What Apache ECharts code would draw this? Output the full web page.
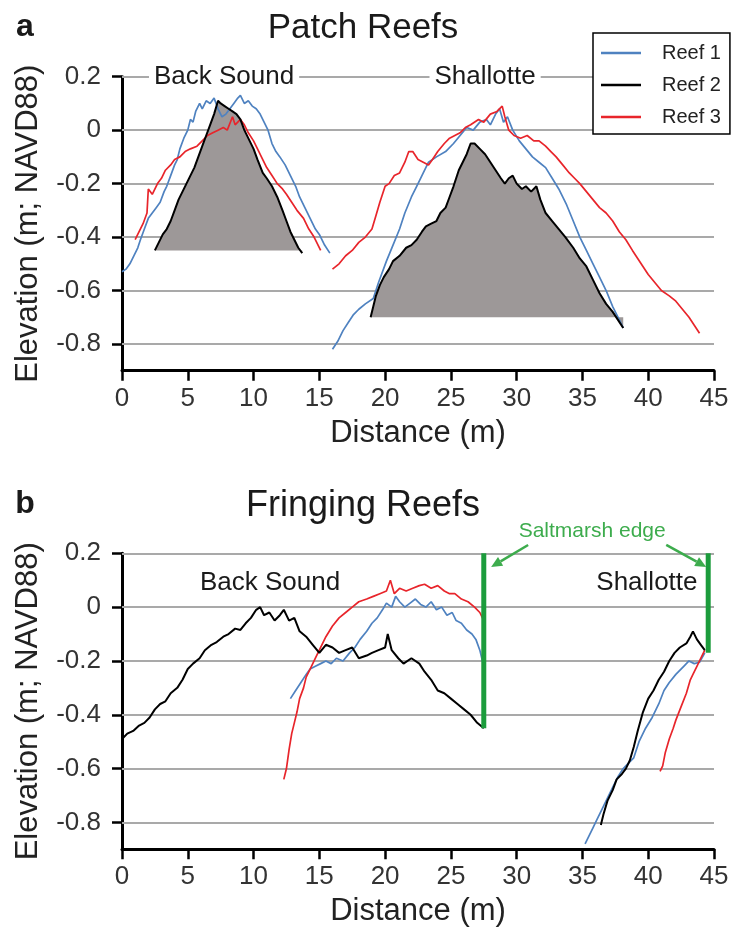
<!DOCTYPE html>
<html><head><meta charset="utf-8">
<script src="https://cdn.jsdelivr.net/npm/echarts@6/dist/echarts.min.js"></script>
<style>html,body{margin:0;padding:0;background:#fff}#c{width:732px;height:930px}</style>
</head><body><div id="c"></div>
<script>
// ---------- data ----------
const xTicks = [0,5,10,15,20,25,30,35,40,45];
const xTickLabels = ['0','5','10','15','20','25','30','35','40','45'];
const yTicks = [-0.8,-0.6,-0.4,-0.2,0,0.2];
const yTickLabels = ['-0.8','-0.6','-0.4','-0.2','0','0.2'];
const reefNames = ['Reef 1','Reef 2','Reef 3'];

// Panel a: Patch reefs, Back Sound
const aBack1 = [[0,-0.53],[0.3,-0.52],[0.6,-0.5],[0.9,-0.47],[1.2,-0.44],[1.4,-0.41],[1.7,-0.37],[2.0,-0.33],[2.3,-0.31],[2.6,-0.29],[2.9,-0.27],[3.2,-0.23],[3.4,-0.21],[3.7,-0.17],[4.0,-0.13],[4.2,-0.11],[4.4,-0.07],[4.7,-0.03],[5.0,0.0],[5.2,0.04],[5.4,0.03],[5.6,0.07],[5.9,0.1],[6.1,0.08],[6.4,0.11],[6.7,0.1],[7.0,0.12],[7.3,0.08],[7.6,0.05],[7.9,0.06],[8.2,0.08],[8.5,0.1],[8.8,0.12],[9.0,0.13],[9.3,0.1],[9.6,0.11],[9.9,0.09],[10.2,0.08],[10.5,0.06],[10.8,0.03],[11.1,0.0],[11.4,-0.05],[11.7,-0.08],[12.0,-0.1],[12.4,-0.13],[12.8,-0.17],[13.2,-0.21],[13.5,-0.25],[13.9,-0.29],[14.3,-0.33],[14.7,-0.37],[15.0,-0.39],[15.4,-0.43],[15.8,-0.46]];
const aBack2 = [[2.5,-0.45],[2.8,-0.42],[3.1,-0.39],[3.4,-0.37],[3.7,-0.34],[4.0,-0.3],[4.3,-0.26],[4.6,-0.23],[4.9,-0.2],[5.2,-0.17],[5.5,-0.14],[5.8,-0.1],[6.1,-0.06],[6.4,-0.02],[6.7,0.02],[7.0,0.06],[7.3,0.11],[7.5,0.1],[7.8,0.09],[8.1,0.08],[8.4,0.07],[8.7,0.06],[9.0,0.04],[9.3,0.0],[9.6,-0.03],[10.0,-0.07],[10.3,-0.11],[10.7,-0.16],[11.0,-0.18],[11.4,-0.21],[11.8,-0.25],[12.2,-0.3],[12.5,-0.34],[12.8,-0.38],[13.1,-0.41],[13.4,-0.44],[13.7,-0.46]];
const aBack3 = [[1.0,-0.41],[1.3,-0.38],[1.6,-0.35],[1.9,-0.31],[2.0,-0.22],[2.3,-0.24],[2.7,-0.2],[3.0,-0.18],[3.3,-0.15],[3.7,-0.13],[4.0,-0.11],[4.4,-0.1],[4.8,-0.08],[5.2,-0.07],[5.7,-0.06],[6.1,-0.04],[6.5,-0.02],[6.9,-0.01],[7.3,0.0],[7.7,0.01],[8.0,0.0],[8.4,0.05],[8.6,0.02],[8.8,0.03],[9.0,0.04],[9.3,0.02],[9.6,-0.01],[10.0,-0.04],[10.3,-0.07],[10.7,-0.11],[11.0,-0.14],[11.4,-0.17],[11.8,-0.2],[12.2,-0.22],[12.5,-0.24],[12.9,-0.27],[13.3,-0.3],[13.8,-0.33],[14.2,-0.37],[14.6,-0.4],[15.1,-0.45]];
// Panel a: Patch reefs, Shallotte
const aShal1 = [[16.0,-0.82],[16.4,-0.79],[16.8,-0.75],[17.2,-0.72],[17.6,-0.69],[18.0,-0.67],[18.5,-0.65],[19.1,-0.63],[19.5,-0.57],[20.1,-0.49],[20.6,-0.43],[21.1,-0.37],[21.5,-0.31],[22.0,-0.25],[22.4,-0.21],[22.9,-0.16],[23.3,-0.12],[23.9,-0.1],[24.6,-0.08],[25.2,-0.05],[25.7,-0.02],[26.2,0.01],[26.7,0.0],[27.2,0.03],[27.7,0.04],[28.0,0.02],[28.4,0.06],[28.7,0.08],[29.0,0.03],[29.3,0.05],[29.7,0.0],[30.2,-0.04],[30.7,-0.07],[31.2,-0.1],[31.7,-0.12],[32.2,-0.14],[32.7,-0.18],[33.2,-0.22],[33.8,-0.28],[34.3,-0.34],[34.8,-0.4],[35.3,-0.45],[35.8,-0.5],[36.3,-0.55],[36.8,-0.6],[37.3,-0.66],[37.7,-0.7],[38.1,-0.74]];
const aShal2 = [[18.9,-0.7],[19.1,-0.66],[19.3,-0.62],[19.6,-0.58],[19.9,-0.55],[20.3,-0.52],[20.6,-0.49],[21.1,-0.47],[21.6,-0.44],[22.0,-0.43],[22.4,-0.41],[22.8,-0.38],[23.1,-0.36],[23.5,-0.35],[23.9,-0.34],[24.2,-0.31],[24.6,-0.29],[24.9,-0.25],[25.2,-0.21],[25.6,-0.15],[25.9,-0.12],[26.2,-0.09],[26.5,-0.05],[26.8,-0.05],[27.2,-0.07],[27.6,-0.09],[28.0,-0.12],[28.4,-0.15],[28.8,-0.18],[29.1,-0.2],[29.4,-0.18],[29.7,-0.17],[30.0,-0.2],[30.4,-0.22],[30.7,-0.21],[31.1,-0.23],[31.5,-0.21],[31.8,-0.26],[32.2,-0.31],[32.7,-0.34],[33.2,-0.37],[33.7,-0.4],[34.3,-0.44],[34.8,-0.48],[35.3,-0.51],[35.8,-0.56],[36.3,-0.61],[36.8,-0.65],[37.3,-0.68],[37.7,-0.71],[38.1,-0.74]];
const aShal3 = [[16.0,-0.52],[16.5,-0.5],[17.0,-0.47],[17.5,-0.45],[18.0,-0.42],[18.5,-0.4],[19.0,-0.37],[19.3,-0.32],[19.6,-0.27],[20.0,-0.21],[20.3,-0.2],[20.7,-0.17],[21.1,-0.16],[21.5,-0.12],[21.8,-0.08],[22.1,-0.08],[22.5,-0.11],[22.9,-0.12],[23.3,-0.13],[23.6,-0.11],[24.0,-0.08],[24.5,-0.05],[24.9,-0.03],[25.3,-0.02],[25.7,-0.01],[26.1,0.01],[26.5,0.02],[27.1,0.04],[27.5,0.03],[28.0,0.06],[28.5,0.07],[28.9,0.09],[29.1,0.05],[29.4,0.0],[29.8,-0.02],[30.3,-0.03],[30.8,-0.02],[31.3,-0.04],[31.7,-0.04],[32.2,-0.06],[32.6,-0.08],[33.0,-0.1],[33.5,-0.13],[34.0,-0.16],[34.4,-0.18],[34.8,-0.2],[35.3,-0.23],[35.8,-0.26],[36.3,-0.29],[36.8,-0.31],[37.3,-0.34],[37.8,-0.38],[38.3,-0.41],[38.8,-0.45],[39.2,-0.48],[39.6,-0.51],[40.0,-0.54],[40.5,-0.57],[41.0,-0.6],[41.6,-0.62],[42.1,-0.64],[42.6,-0.67],[43.1,-0.7],[43.5,-0.73],[43.9,-0.76]];
// Panel b: Fringing reefs, Back Sound
const bBack1 = [[12.8,-0.34],[13.2,-0.31],[13.6,-0.28],[14.0,-0.25],[14.3,-0.23],[14.7,-0.22],[15.1,-0.21],[15.5,-0.2],[15.9,-0.21],[16.3,-0.19],[16.8,-0.2],[17.3,-0.17],[17.7,-0.15],[18.1,-0.12],[18.6,-0.09],[19.0,-0.06],[19.4,-0.04],[19.8,-0.01],[20.1,0.015],[20.5,0.0],[20.8,0.04],[21.1,0.02],[21.5,0.0],[21.9,0.015],[22.3,0.03],[22.7,0.01],[23.1,0.0],[23.5,0.02],[23.9,-0.01],[24.3,0.0],[24.7,-0.03],[25.1,-0.02],[25.4,-0.05],[25.8,-0.06],[26.2,-0.085],[26.6,-0.1],[26.9,-0.12],[27.2,-0.16],[27.4,-0.2]];
const bBack2 = [[0,-0.49],[0.4,-0.47],[0.85,-0.46],[1.3,-0.44],[1.7,-0.43],[2.1,-0.41],[2.5,-0.38],[2.9,-0.36],[3.3,-0.35],[3.7,-0.32],[4.2,-0.3],[4.6,-0.27],[5.0,-0.23],[5.4,-0.21],[5.9,-0.19],[6.3,-0.16],[6.8,-0.14],[7.2,-0.13],[7.7,-0.11],[8.1,-0.1],[8.6,-0.08],[9.0,-0.085],[9.4,-0.06],[9.8,-0.04],[10.2,-0.01],[10.5,0.0],[10.8,-0.03],[11.2,-0.02],[11.6,-0.05],[12.0,-0.03],[12.3,-0.01],[12.7,-0.05],[13.1,-0.04],[13.5,-0.09],[14.0,-0.11],[14.5,-0.14],[15.0,-0.17],[15.5,-0.14],[16.0,-0.15],[16.5,-0.17],[17.0,-0.16],[17.5,-0.15],[18.0,-0.19],[18.6,-0.18],[19.0,-0.17],[19.5,-0.16],[20.0,-0.15],[20.2,-0.1],[20.5,-0.16],[21.0,-0.19],[21.4,-0.21],[22.0,-0.19],[22.6,-0.21],[23.0,-0.24],[23.5,-0.27],[24.0,-0.31],[24.5,-0.32],[25.0,-0.34],[25.5,-0.36],[26.0,-0.38],[26.5,-0.4],[27.0,-0.43],[27.5,-0.45]];
const bBack3 = [[12.3,-0.64],[12.5,-0.6],[12.7,-0.53],[12.9,-0.47],[13.1,-0.43],[13.3,-0.39],[13.5,-0.34],[13.8,-0.3],[14.0,-0.26],[14.3,-0.23],[14.7,-0.19],[15.1,-0.15],[15.5,-0.11],[16.0,-0.07],[16.5,-0.04],[17.0,-0.02],[17.5,0.0],[18.0,0.02],[18.6,0.03],[19.1,0.04],[19.6,0.05],[20.1,0.06],[20.4,0.1],[20.7,0.05],[21.1,0.07],[21.6,0.06],[22.1,0.07],[22.6,0.08],[23.0,0.085],[23.5,0.07],[24.0,0.08],[24.5,0.06],[24.9,0.05],[25.3,0.05],[25.8,0.03],[26.3,0.02],[26.8,0.0],[27.2,-0.02],[27.5,-0.05]];
// Panel b: Fringing reefs, Shallotte
const bShal1 = [[35.2,-0.88],[35.5,-0.85],[35.8,-0.82],[36.1,-0.79],[36.5,-0.75],[36.9,-0.71],[37.3,-0.67],[37.7,-0.63],[38.1,-0.6],[38.5,-0.58],[38.9,-0.56],[39.3,-0.5],[39.8,-0.45],[40.3,-0.41],[40.8,-0.36],[41.2,-0.31],[41.6,-0.28],[42.1,-0.25],[42.7,-0.22],[43.1,-0.2],[43.5,-0.21],[43.9,-0.205],[44.3,-0.17]];
const bShal2 = [[36.4,-0.81],[36.6,-0.77],[36.9,-0.72],[37.3,-0.68],[37.6,-0.64],[38.0,-0.62],[38.3,-0.6],[38.6,-0.57],[38.9,-0.52],[39.2,-0.46],[39.6,-0.39],[40.0,-0.34],[40.4,-0.31],[40.8,-0.27],[41.2,-0.24],[41.6,-0.2],[42.0,-0.17],[42.4,-0.15],[42.9,-0.135],[43.2,-0.11],[43.4,-0.09],[43.7,-0.12],[44.0,-0.14],[44.3,-0.16]];
const bShal3 = [[40.9,-0.61],[41.1,-0.59],[41.3,-0.54],[41.6,-0.49],[41.9,-0.45],[42.1,-0.42],[42.5,-0.37],[42.9,-0.32],[43.2,-0.27],[43.4,-0.25],[43.7,-0.22],[43.9,-0.2],[44.3,-0.16]];
// Saltmarsh edge positions [distance, bottom elevation]; top at 0.2
const marshEdge = [[27.5,-0.45],[44.56,-0.17]];
const marshTop = 0.2;
// Patch reef base elevations (shaded area under Reef 2)
const baseBack = -0.45, baseShal = -0.70;

// ---------- styles ----------
const FF = 'Liberation Sans, Arial, sans-serif';
const BLUE = '#4f82c0', BLACK = '#000000', RED = '#e8252b', FILL = '#9d9898';
const GREEN = '#1c9c3c', GREEN_T = '#3dac4d';

function line(name, data, g, color, width, z) {
  return {type:'line', name, data, xAxisIndex:g, yAxisIndex:g, symbol:'none', showSymbol:false,
    lineStyle:{color, width}, itemStyle:{color}, z, silent:true, animation:false};
}
function fill(data, g, base) {
  return {type:'line', data, xAxisIndex:g, yAxisIndex:g, symbol:'none', showSymbol:false,
    lineStyle:{width:0, opacity:0}, areaStyle:{origin:base, color:FILL, opacity:1}, z:2, silent:true, animation:false};
}
function gridLines(g) {
  return {type:'line', data:[[0,-0.9]], xAxisIndex:g, yAxisIndex:g, symbol:'none', lineStyle:{opacity:0}, z:1, zlevel:0, silent:true,
    markLine:{silent:true, symbol:['none','none'], label:{show:false}, animation:false, z:1,
      lineStyle:{color:'#a9a9a9', width:1.8, type:'solid'}, data:yTicks.map(v=>({yAxis:v}))}};
}

const series = [
  gridLines(0), gridLines(1),
  fill(aBack2, 0, baseBack), fill(aShal2, 0, baseShal),
  line(reefNames[0], aBack1, 0, BLUE, 1.7, 3), line(reefNames[2], aBack3, 0, RED, 1.7, 3), line(reefNames[1], aBack2, 0, BLACK, 2, 4),
  line(reefNames[0], aShal1, 0, BLUE, 1.7, 3), line(reefNames[2], aShal3, 0, RED, 1.7, 3), line(reefNames[1], aShal2, 0, BLACK, 2, 4),
  line(reefNames[1], bBack2, 1, BLACK, 2, 4), line(reefNames[0], bBack1, 1, BLUE, 1.7, 3), line(reefNames[2], bBack3, 1, RED, 1.7, 3),
  line(reefNames[1], bShal2, 1, BLACK, 2, 4), line(reefNames[0], bShal1, 1, BLUE, 1.7, 3), line(reefNames[2], bShal3, 1, RED, 1.7, 3)
];
marshEdge.forEach(m => {
  series.push({type:'line', data:[[m[0], marshTop],[m[0], m[1]]], xAxisIndex:1, yAxisIndex:1, symbol:'none',
    lineStyle:{color:GREEN, width:5}, z:5, silent:true, animation:false});
});

const xAxis = [0,1].map(g => ({type:'value', gridIndex:g, min:0, max:45, interval:5,
  axisLine:{show:true, onZero:false, lineStyle:{color:'#000', width:3}},
  axisTick:{show:true, length:10, lineStyle:{color:'#000', width:2.5}},
  axisLabel:{fontSize:26, color:'#333', margin:15, fontFamily:FF, formatter:v => xTickLabels[xTicks.indexOf(v)] ?? ''},
  splitLine:{show:false},
  name:'Distance (m)', nameLocation:'middle', nameGap:47, nameTextStyle:{fontSize:31, color:'#222', fontFamily:FF}}));
const yAxis = [0,1].map(g => ({type:'value', gridIndex:g, min:-0.9, max:0.2,
  axisLine:{show:true, onZero:false, lineStyle:{color:'#000', width:3}},
  axisTick:{show:true, length:10, lineStyle:{color:'#000', width:2.5}, customValues:yTicks},
  axisLabel:{fontSize:26, color:'#333', margin:21, fontFamily:FF, customValues:yTicks,
    formatter:v => { const i = yTicks.findIndex(t => Math.abs(t - v) < 1e-6); return i >= 0 ? yTickLabels[i] : ''; }},
  splitLine:{show:false},
  name:'Elevation (m; NAVD88)', nameLocation:'middle', nameGap:78, nameTextStyle:{fontSize:31, color:'#222', fontFamily:FF}}));

const chart = echarts.init(document.getElementById('c'), null, {renderer:'canvas'});
chart.setOption({
  animation:false,
  backgroundColor:'#fff',
  grid:[{left:122, top:76.7, width:592, height:294}, {left:122, top:553.3, width:592, height:296}],
  xAxis, yAxis,
  legend:{data:reefNames, orient:'vertical', left:593, top:33, icon:'rect', itemWidth:40, itemHeight:2.5, itemGap:12,
    backgroundColor:'#fff', borderColor:'#000', borderWidth:1.5, padding:[10,9,7,8], selectedMode:false,
    z:50, zlevel:1,
    textStyle:{fontSize:20, color:'#222', fontFamily:FF, padding:[0,0,0,16]}},
  series
});

// ---------- annotations (placed through the chart's own scales) ----------
const px = (g, pt) => chart.convertToPixel({gridIndex:g}, pt);
const graphics = [];
function txt(x, y, text, size, opts) {
  graphics.push({type:'text', x, y, z:100, silent:true, style:Object.assign({text, fontSize:size, fontFamily:FF, fill:'#1a1a1a', align:'center', verticalAlign:'middle'}, opts||{})});
}
txt(25, 27, 'a', 32, {fontWeight:'bold'});
txt(363, 28, 'Patch Reefs', 35);
txt(25, 504, 'b', 32, {fontWeight:'bold'});
txt(363, 506, 'Fringing Reefs', 36);

const places = [
  {g:0, text:'Back Sound', at:[7.76, 0.2], bg:true},
  {g:0, text:'Shallotte', at:[27.6, 0.2], bg:true},
  {g:1, text:'Back Sound', at:[11.25, 0.09]},
  {g:1, text:'Shallotte', at:[39.9, 0.09]}
];
places.forEach(p => {
  const q = px(p.g, p.at);
  txt(q[0], q[1], p.text, 26, p.bg ? {backgroundColor:'#fff', padding:[2,5]} : {});
});
const lbl = px(1, [35.74, 0.283]);
txt(lbl[0], lbl[1], 'Saltmarsh edge', 21, {fill:GREEN_T});
function arrow(a, b) {
  const p1 = px(1, a), p2 = px(1, b);
  const dx = p2[0]-p1[0], dy = p2[1]-p1[1], L = Math.hypot(dx, dy), ux = dx/L, uy = dy/L;
  const hl = 11, hw = 5, bx = p2[0]-ux*hl, by = p2[1]-uy*hl;
  graphics.push({type:'line', z:100, silent:true, shape:{x1:p1[0], y1:p1[1], x2:bx, y2:by}, style:{stroke:GREEN_T, lineWidth:2.5}});
  graphics.push({type:'polygon', z:100, silent:true, shape:{points:[[p2[0],p2[1]],[bx-uy*hw, by+ux*hw],[bx+uy*hw, by-ux*hw]]}, style:{fill:GREEN_T}});
}
arrow([30.87, 0.231], [28.06, 0.149]);
arrow([41.37, 0.231], [44.41, 0.149]);
chart.setOption({graphic:graphics});
</script></body></html>
